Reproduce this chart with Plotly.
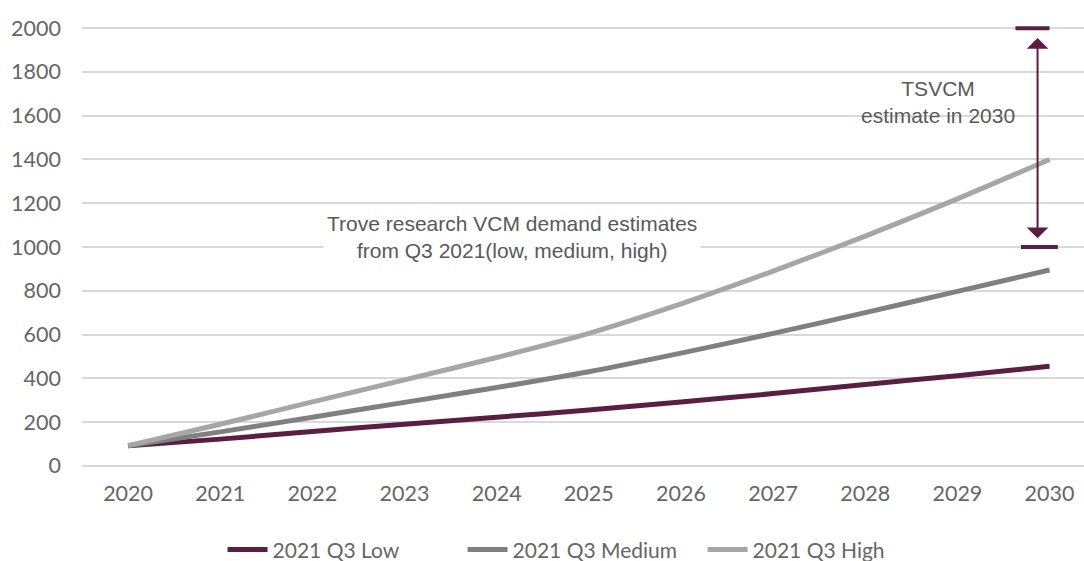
import plotly.graph_objects as go

years = [2020, 2021, 2022, 2023, 2024, 2025, 2026, 2027, 2028, 2029, 2030]
low = [92, 122, 157, 190, 222, 255, 292, 330, 372, 412, 455]
medium = [92, 155, 222, 290, 358, 430, 515, 605, 700, 797, 895]
high = [92, 190, 292, 393, 495, 605, 740, 890, 1050, 1220, 1400]
series_names = ["2021 Q3 Low", "2021 Q3 Medium", "2021 Q3 High"]
y_ticks = [0, 200, 400, 600, 800, 1000, 1200, 1400, 1600, 1800, 2000]

colors = ["#5b1e42", "#808080", "#a6a6a6"]
maroon = "#5b1e42"
txt_font = dict(family="Liberation Sans, Arial", size=21, color="#595959")

fig = go.Figure()
for name, vals, c in zip(series_names, [low, medium, high], colors):
    fig.add_trace(go.Scatter(x=years, y=vals, mode="lines", name=name,
                             line=dict(color=c, width=5, shape="spline", smoothing=0.8)))

# TSVCM range caps and arrow
fig.add_shape(type="line", x0=2029.63, x1=2030.0, y0=2000, y1=2000,
              line=dict(color=maroon, width=4))
fig.add_shape(type="line", x0=2029.69, x1=2030.09, y0=1000, y1=1000,
              line=dict(color=maroon, width=4))
fig.add_annotation(x=2029.87, y=1040, ax=2029.87, ay=1962, xref="x", yref="y",
                   axref="x", ayref="y", text="", showarrow=True,
                   arrowside="end+start", arrowhead=1, arrowsize=1.8,
                   arrowwidth=2, arrowcolor=maroon)
fig.add_annotation(x=2028.79, y=1662, xref="x", yref="y",
                   text="TSVCM<br>estimate in 2030", showarrow=False,
                   font=txt_font, align="center")
fig.add_annotation(x=2024.17, y=1044, xref="x", yref="y",
                   text="Trove research VCM demand estimates<br>from Q3 2021(low, medium, high)",
                   showarrow=False, bgcolor="white", borderpad=3,
                   font=txt_font, align="center")

fig.update_layout(
    width=1084, height=561,
    margin=dict(l=82, r=0, t=26, b=93, autoexpand=False),
    paper_bgcolor="white", plot_bgcolor="white",
    font=dict(family="Lato, Noto Sans", size=21.5, color="#666666"),
    showlegend=True,
    legend=dict(orientation="h", x=0.2053, xanchor="left", xref="container",
                y=0.02, yanchor="middle", yref="container",
                font=dict(family="Lato, Noto Sans", size=21, color="#666666"),
                itemwidth=40, entrywidth=185),
    xaxis=dict(range=[2019.5, 2030.374], tickmode="array", tickvals=years,
               ticktext=[str(y) for y in years], showgrid=False, zeroline=False,
               showline=False, ticklabelstandoff=10),
    yaxis=dict(range=[-10, 2010], tickmode="array", tickvals=y_ticks,
               showgrid=True, gridcolor="#d9d9d9", gridwidth=2, zeroline=False,
               showline=False, ticklabelstandoff=20),
)

fig.write_html("out.html")
